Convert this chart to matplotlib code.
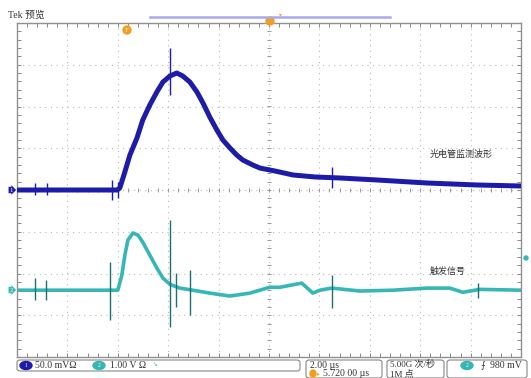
import numpy as np
import matplotlib.pyplot as plt
from matplotlib.patches import FancyBboxPatch, Ellipse

plt.rcParams['font.family'] = ['Liberation Serif', 'Noto Sans CJK SC', 'DejaVu Sans']

# channel 1 (photocell), time in us, value in mV (50 mV/div)
ch1_t = [-4.29, -0.3, -0.2, 0.0, 0.2, 0.48, 0.71, 0.99, 1.27, 1.51, 1.79, 2.06, 2.30,
         2.58, 2.86, 3.10, 3.37, 3.65, 3.89, 4.17, 4.44, 4.68, 5.08, 5.36, 5.95, 6.67,
         7.54, 8.53, 10.0, 11.98, 13.97, 15.72]
ch1_mv = [0, 0, 2.4, 21.6, 41.9, 62.3, 83.8, 101.8, 117.4, 129.3, 136.5, 140.1, 136.5,
          129.3, 117.4, 104.2, 87.4, 71.9, 59.9, 50.3, 41.9, 35.9, 29.9, 26.3, 22.8, 18.0,
          15.6, 14.4, 12.0, 8.4, 6.0, 4.8]
ch1_spk_t = [-3.57, -3.10, -0.52, -0.28, 1.79, 8.21]
ch1_spk_hi = [8.4, 8.4, 12.0, 9.6, 170.0, 27.5]
ch1_spk_lo = [-6.0, -6.0, -12.0, -9.6, 114.0, 2.4]

# channel 2 (trigger signal), time in us, value in V (1 V/div)
ch2_t = [-4.29, -0.28, -0.12, 0.0, 0.12, 0.32, 0.52, 0.71, 0.99, 1.27, 1.51, 1.79, 2.18,
         2.70, 3.37, 4.17, 4.96, 5.75, 6.15, 7.02, 7.46, 7.74, 8.21, 9.33, 10.63, 11.98,
         12.9, 13.41, 14.09, 15.72]
ch2_v = [0, 0, 0.36, 0.84, 1.20, 1.37, 1.32, 1.15, 0.84, 0.53, 0.29, 0.14, 0.05, 0,
         -0.07, -0.14, -0.07, 0.07, 0.07, 0.17, -0.07, 0, 0.05, -0.02, 0, 0.05, 0.05,
         -0.05, 0.02, 0]
ch2_spk_t = [-3.57, -3.13, -0.60, 1.79, 2.02, 2.58, 8.21, 14.0]
ch2_spk_hi = [0.29, 0.24, 0.67, 1.68, 0.41, 0.48, 0.36, 0.17]
ch2_spk_lo = [-0.24, -0.24, -0.72, -0.89, -0.41, -0.60, -0.43, -0.19]

ch1_scale = 50.0   # mV/div
ch2_scale = 1.0    # V/div
ch1_pos = 0.0
ch2_pos = -2.4
t_center = 5.72
t_div = 2.0

W, H = 531, 378
fig = plt.figure(figsize=(W / 100, H / 100), dpi=100)


def fx(x):
    return x / W


def fy(y):
    return 1 - y / H


ax = fig.add_axes([fx(17), fy(357), (521 - 17) / W, (357 - 23) / H])
ax.set_xlim(t_center - 5 * t_div, t_center + 5 * t_div)
ax.set_ylim(-4, 4)

# graticule
gc = '#b8b8b8'
for k in range(1, 10):
    ax.axvline(t_center + (k - 5) * t_div, color=gc, lw=0.8, ls=(0, (1, 4)), zorder=1)
for k in range(-3, 4):
    ax.axhline(k, color=gc, lw=0.8, ls=(0, (1, 4)), zorder=1)
mt = np.arange(-5, 5.01, 0.2)
ax.plot(t_center + mt * t_div, np.zeros_like(mt), '|', color='#999999', ms=3, mew=0.7, zorder=1)
mv = np.arange(-4, 4.01, 0.2)
ax.plot(np.full_like(mv, t_center), mv, '_', color='#999999', ms=3, mew=0.7, zorder=1)
ax.set_xticks(t_center + np.arange(-5, 5.01, 1) * t_div)
ax.set_xticks(t_center + mt * t_div, minor=True)
ax.set_yticks(np.arange(-4, 4.01, 1))
ax.set_yticks(mv, minor=True)
ax.tick_params(which='both', direction='in', top=True, right=True, labelbottom=False,
               labelleft=False, color='#888888', length=3, width=0.7)
for s in ax.spines.values():
    s.set_color('#909090')
    s.set_linewidth(1.0)

# traces
blue = '#1c1ca8'
cyan = '#36b6b6'
y1 = np.array(ch1_mv) / ch1_scale + ch1_pos
y2 = np.array(ch2_v) / ch2_scale + ch2_pos
ax.plot(ch1_t, y1, color=blue, lw=3.6, solid_joinstyle='round', zorder=3)
ax.vlines(ch1_spk_t, np.array(ch1_spk_lo) / ch1_scale + ch1_pos,
          np.array(ch1_spk_hi) / ch1_scale + ch1_pos, color=blue, lw=1.0, zorder=3)
ax.plot(ch2_t, y2, color=cyan, lw=2.6, solid_joinstyle='round', zorder=2)
ax.vlines(ch2_spk_t, np.array(ch2_spk_lo) / ch2_scale + ch2_pos,
          np.array(ch2_spk_hi) / ch2_scale + ch2_pos, color='#1f6f70', lw=1.0, zorder=2)

ax.text(12.1, 0.85, '光电管监测波形', fontsize=6.5, color='#333333', va='center')
ax.text(12.1, -1.95, '触发信号', fontsize=6.5, color='#333333', va='center')

# channel ground markers
fig.text(fx(11), fy(190), '1', fontsize=5, color='white', ha='center', va='center',
         bbox=dict(boxstyle='rarrow,pad=0.1', fc=blue, ec='none'))
fig.text(fx(11), fy(290), '2', fontsize=5, color='white', ha='center', va='center',
         bbox=dict(boxstyle='rarrow,pad=0.1', fc=cyan, ec='none'))

# top header
orange = '#f0a020'
fig.text(fx(8), fy(15), 'Tek 预览', fontsize=7, color='#333333', va='center')
fig.add_artist(plt.Line2D([fx(150), fx(390)], [fy(17), fy(17)], color='#a8a8f0', lw=1.8))
fig.add_artist(Ellipse((fx(270), fy(21)), 8 / W, 8 / H, color=orange))
fig.add_artist(Ellipse((fx(127), fy(30)), 8 / W, 8 / H, color=orange))
fig.text(fx(127), fy(30), 'T', fontsize=4, color='white', ha='center', va='center')
fig.text(fx(280), fy(15), '▾', fontsize=4, color=orange, ha='center', va='center',
         family=['DejaVu Sans'])
fig.add_artist(Ellipse((fx(526), fy(258)), 4 / W, 4 / H, color=cyan))


# status bar
def box(x0, y0, x1, y1):
    fig.add_artist(FancyBboxPatch((fx(x0), fy(y1)), (x1 - x0) / W, (y1 - y0) / H,
                                  boxstyle='round,pad=0,rounding_size=0.006',
                                  fc='white', ec='#777777', lw=0.7))


box(17, 360, 300, 371)
box(306, 360, 382, 378)
box(387, 360, 444, 378)
box(447, 360, 527, 378)

fig.add_artist(Ellipse((fx(26), fy(365.5)), 12 / W, 8 / H, color=blue))
fig.text(fx(26), fy(365.5), '1', fontsize=4, color='white', ha='center', va='center')
fig.text(fx(35), fy(365.5), '50.0 mVΩ', fontsize=7, color='#333333', va='center')
fig.add_artist(Ellipse((fx(99), fy(365.5)), 12 / W, 8 / H, color=cyan))
fig.text(fx(99), fy(365.5), '2', fontsize=4, color='white', ha='center', va='center')
fig.text(fx(110), fy(365.5), '1.00 V Ω', fontsize=7, color='#333333', va='center')
fig.text(fx(152), fy(365), '↘', fontsize=4, color=cyan, va='center', family=['DejaVu Sans'])

fig.text(fx(310), fy(365), '2.00 µs', fontsize=7, color='#333333', va='center')
fig.add_artist(Ellipse((fx(313), fy(373.5)), 6 / W, 7 / H, color=orange))
fig.text(fx(317), fy(373.5), '▸', fontsize=4, color=orange, va='center', family=['DejaVu Sans'])
fig.text(fx(323), fy(373.5), '5.720 00 µs', fontsize=7, color='#333333', va='center')

fig.text(fx(390), fy(365), '5.00G 次/秒', fontsize=6.5, color='#333333', va='center')
fig.text(fx(390), fy(373.5), '1M 点', fontsize=6.5, color='#333333', va='center')

fig.add_artist(Ellipse((fx(467), fy(365.5)), 12 / W, 8 / H, color=cyan))
fig.text(fx(467), fy(365.5), '2', fontsize=4, color='white', ha='center', va='center')
fig.text(fx(481), fy(365.5), '⨍', fontsize=6.5, color='#333333', va='center',
         family=['DejaVu Sans'])
fig.text(fx(490), fy(365.5), '980 mV', fontsize=7, color='#333333', va='center')

fig.savefig('out.png', dpi=100)
